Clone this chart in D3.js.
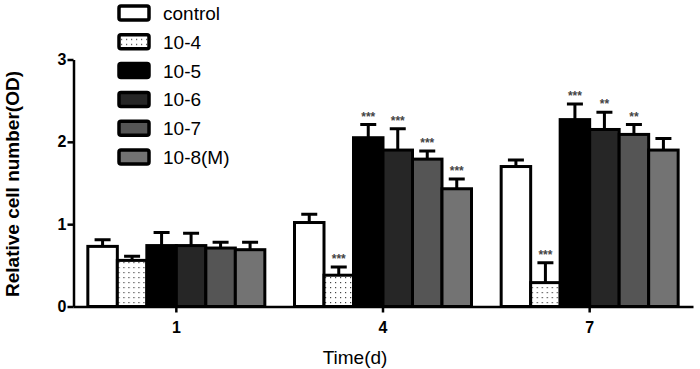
<!doctype html>
<html>
<head>
<meta charset="utf-8">
<script src="https://d3js.org/d3.v7.min.js"></script>
<style>
  body { margin: 0; background: #fff; }
  svg text { font-family: Arial, "Liberation Sans", sans-serif; }
</style>
</head>
<body>
<div id="chart"></div>
<script>
// data
var times = ["1", "4", "7"];
var groups = ["control", "10-4", "10-5", "10-6", "10-7", "10-8(M)"];
var fills = ["#ffffff", "url(#dots)", "#000000", "#262626", "#555555", "#737373"];
// mean values per time point, one entry per group
var means = [
  [0.73, 0.56, 0.74, 0.74, 0.71, 0.69],
  [1.02, 0.38, 2.05, 1.90, 1.79, 1.43],
  [1.70, 0.29, 2.27, 2.15, 2.09, 1.90]
];
// error bar (upper) size
var errs = [
  [0.08, 0.05, 0.16, 0.15, 0.07, 0.09],
  [0.10, 0.10, 0.16, 0.26, 0.10, 0.12],
  [0.08, 0.24, 0.19, 0.21, 0.12, 0.14]
];
var stars = [
  ["", "", "", "", "", ""],
  ["", "***", "***", "***", "***", "***"],
  ["", "***", "***", "**", "**", ""]
];
var yTicks = [0, 1, 2, 3];

var W = 700, H = 369;
var svg = d3.select("#chart").append("svg")
  .attr("width", W).attr("height", H);

// dotted pattern for 10-4
var pat = svg.append("defs").append("pattern")
  .attr("id", "dots").attr("patternUnits", "userSpaceOnUse")
  .attr("width", 5).attr("height", 5);
pat.append("rect").attr("width", 5).attr("height", 5).attr("fill", "#fff");
pat.append("rect").attr("x", 2).attr("y", 2).attr("width", 1.2).attr("height", 1.2).attr("fill", "#444");

var x = d3.scaleBand().domain(times).range([73, 693]);
var xs = d3.scaleBand().domain(groups).range([-88.5, 88.5]);
var y = d3.scaleLinear().domain([0, 3]).range([306.5, 59.5]);

// bars
var g = svg.selectAll(".grp").data(times).enter().append("g")
  .attr("transform", function (d) { return "translate(" + (x(d) + x.bandwidth() / 2) + ",0)"; });

g.each(function (t, i) {
  var sel = d3.select(this);
  var rows = groups.map(function (gr, j) {
    return { g: gr, v: means[i][j], e: errs[i][j], s: stars[i][j], f: fills[j] };
  });
  // error bars
  sel.selectAll(".err").data(rows).enter().append("path")
    .attr("d", function (d) {
      var cx = xs(d.g) + xs.bandwidth() / 2;
      return "M" + cx + "," + y(d.v) + "V" + y(d.v + d.e) +
        "M" + (cx - 8) + "," + y(d.v + d.e) + "H" + (cx + 8);
    })
    .attr("stroke", "#000").attr("stroke-width", 3).attr("fill", "none");
  sel.selectAll(".bar").data(rows).enter().append("rect")
    .attr("x", function (d) { return xs(d.g); })
    .attr("y", function (d) { return y(d.v); })
    .attr("width", xs.bandwidth())
    .attr("height", function (d) { return y(0) - y(d.v); })
    .attr("fill", function (d) { return d.f; })
    .attr("stroke", "#000").attr("stroke-width", 3);
  sel.selectAll(".star").data(rows).enter().append("text")
    .attr("x", function (d) { return xs(d.g) + xs.bandwidth() / 2; })
    .attr("y", function (d) { return y(d.v + d.e) - 4; })
    .attr("text-anchor", "middle")
    .attr("font-size", 12).attr("font-weight", "bold").attr("fill", "#444")
    .text(function (d) { return d.s; });
});

// axes
var xAxis = svg.append("g").attr("transform", "translate(0," + y(0) + ")")
  .call(d3.axisBottom(x).tickSize(6).tickSizeOuter(0));
xAxis.select(".domain").attr("stroke-width", 2.5);
xAxis.selectAll(".tick line").attr("stroke-width", 2.5);
xAxis.selectAll("text").attr("font-size", 16).attr("font-weight", "bold")
  .attr("font-family", "Arial, 'Liberation Sans', sans-serif").attr("dy", "1.1em").attr("fill", "#000");

var yAxis = svg.append("g").attr("transform", "translate(73.5,0)")
  .call(d3.axisLeft(y).tickValues(yTicks).tickFormat(d3.format("d")).tickSize(6).tickSizeOuter(0));
yAxis.select(".domain").attr("stroke-width", 2.5);
yAxis.selectAll(".tick line").attr("stroke-width", 2.5);
yAxis.selectAll("text").attr("font-size", 16).attr("font-weight", "bold")
  .attr("font-family", "Arial, 'Liberation Sans', sans-serif").attr("fill", "#000").attr("x", -7);

svg.append("text")
  .attr("x", 355).attr("y", 364)
  .attr("text-anchor", "middle").attr("font-size", 19)
  .text("Time(d)");

svg.append("text")
  .attr("transform", "translate(19,184) rotate(-90)")
  .attr("text-anchor", "middle").attr("font-size", 19).attr("font-weight", "bold")
  .text("Relative cell number(OD)");

// legend
var leg = svg.append("g").selectAll("g").data(groups).enter().append("g")
  .attr("transform", function (d, i) { return "translate(119," + (13 + i * 28.8) + ")"; });
leg.append("rect")
  .attr("x", 0).attr("y", -7).attr("width", 30).attr("height", 14)
  .attr("rx", 2)
  .attr("fill", function (d, i) { return fills[i]; })
  .attr("stroke", "#000").attr("stroke-width", 3.5);
leg.append("text")
  .attr("x", 44).attr("y", 7)
  .attr("font-size", 19)
  .text(function (d) { return d; });
</script>
</body>
</html>
